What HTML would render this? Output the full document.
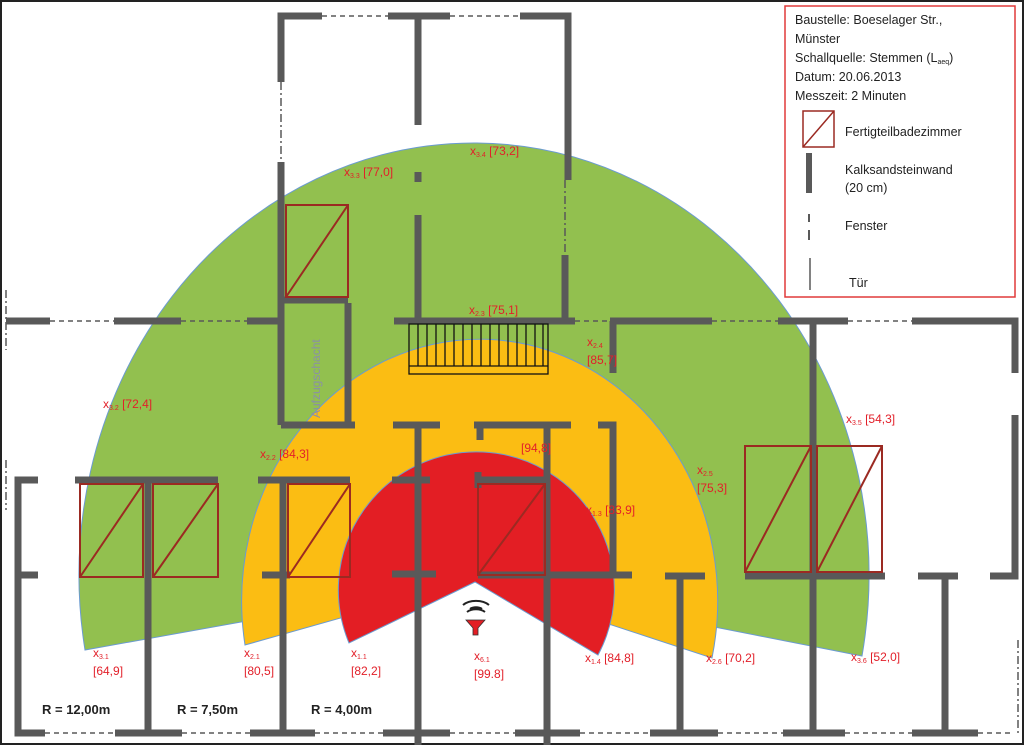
<!DOCTYPE html>
<html><head><meta charset="utf-8"><style>
html,body{margin:0;padding:0;background:#fff}
svg{display:block}
.w{stroke:#595959;stroke-width:7;fill:none}
.d{stroke:#595959;stroke-width:1.5;stroke-dasharray:5 4;fill:none}
.dd{stroke:#595959;stroke-width:1.5;stroke-dasharray:8 3 2 3;fill:none}
.b{stroke:#9b2a22;stroke-width:2;fill:none}
.l{font-family:"Liberation Sans",sans-serif;font-size:12px;fill:#e2202a}
.s{font-size:7px}
.lg{font-family:"Liberation Sans",sans-serif;font-size:12.5px;fill:#222}
</style></head><body>
<svg width="1024" height="745" viewBox="0 0 1024 745">
<rect x="1" y="1" width="1022" height="743" fill="#fff" stroke="#222" stroke-width="2"/>
<!-- zones -->
<path d="M85,650 A395,432 0 1 1 862,656 L475,580 Z" fill="#92c04f" stroke="#6b9bd0" stroke-width="1"/>
<path d="M245,645 A238,262 0 1 1 712,658 L475,580 Z" fill="#fbbd13" stroke="#6b9bd0" stroke-width="1"/>
<path d="M349,643 A138,138 0 1 1 598,655 L475,582 Z" fill="#e31e24" stroke="#6b9bd0" stroke-width="1"/>
<!-- dashed windows -->
<g class="d">
<line x1="322" y1="16" x2="388" y2="16"/><line x1="450" y1="16" x2="520" y2="16"/>
<line x1="50" y1="321" x2="114" y2="321"/><line x1="181" y1="321" x2="247" y2="321"/>
<line x1="575" y1="321" x2="610" y2="321"/>
<line x1="712" y1="321" x2="778" y2="321"/><line x1="848" y1="321" x2="912" y2="321"/>
<line x1="45" y1="733" x2="115" y2="733"/><line x1="182" y1="733" x2="250" y2="733"/>
<line x1="315" y1="733" x2="383" y2="733"/><line x1="450" y1="733" x2="515" y2="733"/>
<line x1="580" y1="733" x2="650" y2="733"/><line x1="718" y1="733" x2="783" y2="733"/>
<line x1="845" y1="733" x2="912" y2="733"/><line x1="978" y1="733" x2="1012" y2="733"/>
</g>
<g class="dd">
<line x1="281" y1="82" x2="281" y2="162"/><line x1="565" y1="180" x2="565" y2="255"/>
<line x1="6" y1="290" x2="6" y2="350"/><line x1="6" y1="460" x2="6" y2="510"/><line x1="1018" y1="640" x2="1018" y2="735"/>
</g>
<!-- walls -->
<g class="w">
<path d="M322,16 H281 V82 M281,162 V425"/>
<path d="M388,16 H450 M418,16 V125 M418,172 V182 M418,215 V321"/>
<path d="M520,16 H568 V180 M565,255 V321"/>
<path d="M6,321 H50 M114,321 H181 M247,321 H283 M394,321 H575 M560,321 H575 M610,321 H712 M778,321 H848 M912,321 H1015 V373 M1015,415 V576 H990"/>
<path d="M613,321 V373"/>
<path d="M348,303 V425 M281,425 H355 M284,300 H348"/>
<path d="M393,425 H440 M418,425 V745 M392,480 H430 M392,574 H436"/>
<path d="M474,425 H571 M480,425 V440 M547,425 V745"/>
<path d="M598,425 H613 V575 M478,472 V488 M478,480 H545 M478,575 H632"/>
<path d="M38,480 H18 V733 H45 M18,575 H38"/>
<path d="M75,480 H218 M148,480 V733 M115,733 H182"/>
<path d="M258,480 H350 M283,480 V733 M262,575 H290 M250,733 H315"/>
<path d="M383,733 H450 M515,733 H580"/>
<path d="M665,576 H705 M680,576 V733 M650,733 H718"/>
<path d="M813,321 V733 M745,576 H885 M783,733 H845"/>
<path d="M918,576 H958 M945,576 V733 M912,733 H978"/>
</g>
<!-- bathrooms -->
<g class="b">
<rect x="286" y="205" width="62" height="92"/><line x1="286" y1="297" x2="348" y2="205"/>
<rect x="80" y="484" width="63" height="93"/><line x1="80" y1="577" x2="143" y2="484"/>
<rect x="153" y="484" width="65" height="93"/><line x1="153" y1="577" x2="218" y2="484"/>
<rect x="288" y="484" width="62" height="93"/><line x1="288" y1="577" x2="350" y2="484"/>
<rect x="478" y="484" width="67" height="91"/><line x1="478" y1="575" x2="545" y2="484"/>
<rect x="745" y="446" width="66" height="126"/><line x1="745" y1="572" x2="811" y2="446"/>
<rect x="817" y="446" width="65" height="126"/><line x1="817" y1="572" x2="882" y2="446"/>
</g>
<!-- stairs -->
<g stroke="#111" stroke-width="1.3" fill="none">
<rect x="409" y="324" width="139" height="50"/><line x1="409" y1="366" x2="548" y2="366"/>
<path d="M418,324V366M427,324V366M436,324V366M445,324V366M454,324V366M463,324V366M472,324V366M481,324V366M490,324V366M499,324V366M508,324V366M517,324V366M526,324V366M535,324V366M543,324V366"/>
</g>
<text x="320" y="418" transform="rotate(-90 320 418)" font-family="Liberation Sans,sans-serif" font-size="12" fill="#8a8fa8">Aufzugschacht</text>
<!-- source icon -->
<g>
<path d="M466,620 H485 L478,628 V635 H473 V628 Z" fill="#e31e24" stroke="#333" stroke-width="0.8"/>
<path d="M467,612 A12,8 0 0 1 485,612 M470,609 A8,5 0 0 1 482,609 M463,605 A16,10 0 0 1 489,605" stroke="#222" stroke-width="2" fill="none"/>
</g>
<!-- labels -->
<g class="l">
<text x="344" y="176">x<tspan class="s" dy="2">3.3</tspan><tspan dy="-2">  [77,0]</tspan></text>
<text x="470" y="155">x<tspan class="s" dy="2">3.4</tspan><tspan dy="-2">  [73,2]</tspan></text>
<text x="103" y="408">x<tspan class="s" dy="2">3.2</tspan><tspan dy="-2"> [72,4]</tspan></text>
<text x="469" y="314">x<tspan class="s" dy="2">2.3</tspan><tspan dy="-2">  [75,1]</tspan></text>
<text x="587" y="346">x<tspan class="s" dy="2">2.4</tspan></text><text x="587" y="364">[85,7]</text>
<text x="260" y="458">x<tspan class="s" dy="2">2.2</tspan><tspan dy="-2">  [84,3]</tspan></text>
<text x="521" y="452">[94,8]</text>
<text x="586" y="514">x<tspan class="s" dy="2">1.3</tspan><tspan dy="-2">   [83,9]</tspan></text>
<text x="697" y="474">x<tspan class="s" dy="2">2.5</tspan></text><text x="697" y="492">[75,3]</text>
<text x="846" y="423">x<tspan class="s" dy="2">3.5</tspan><tspan dy="-2">  [54,3]</tspan></text>
<text x="93" y="657">x<tspan class="s" dy="2">3.1</tspan></text><text x="93" y="675">[64,9]</text>
<text x="244" y="657">x<tspan class="s" dy="2">2.1</tspan></text><text x="244" y="675">[80,5]</text>
<text x="351" y="657">x<tspan class="s" dy="2">1.1</tspan></text><text x="351" y="675">[82,2]</text>
<text x="474" y="660">x<tspan class="s" dy="2">6.1</tspan></text><text x="474" y="678">[99.8]</text>
<text x="585" y="662">x<tspan class="s" dy="2">1.4</tspan><tspan dy="-2">  [84,8]</tspan></text>
<text x="706" y="662">x<tspan class="s" dy="2">2.6</tspan><tspan dy="-2">  [70,2]</tspan></text>
<text x="851" y="661">x<tspan class="s" dy="2">3.6</tspan><tspan dy="-2">  [52,0]</tspan></text>
</g>
<g font-family="Liberation Sans,sans-serif" font-size="13" font-weight="bold" fill="#222">
<text x="42" y="714">R = 12,00m</text><text x="177" y="714">R = 7,50m</text><text x="311" y="714">R = 4,00m</text>
</g>
<!-- legend -->
<rect x="785" y="6" width="230" height="291" fill="#fff" stroke="#e03a3a" stroke-width="1.5"/>
<g class="lg">
<text x="795" y="24">Baustelle: Boeselager Str.,</text>
<text x="795" y="43">Münster</text>
<text x="795" y="62">Schallquelle: Stemmen (L<tspan font-size="7" dy="2">aeq</tspan><tspan dy="-2">)</tspan></text>
<text x="795" y="81">Datum: 20.06.2013</text>
<text x="795" y="100">Messzeit: 2 Minuten</text>
<text x="845" y="136">Fertigteilbadezimmer</text>
<text x="845" y="174">Kalksandsteinwand</text>
<text x="845" y="192">(20 cm)</text>
<text x="845" y="230">Fenster</text>
<text x="849" y="287">Tür</text>
</g>
<rect x="803" y="111" width="31" height="36" fill="none" stroke="#9b2a22" stroke-width="1.5"/>
<line x1="803" y1="147" x2="834" y2="111" stroke="#9b2a22" stroke-width="1.5"/>
<line x1="809" y1="153" x2="809" y2="193" stroke="#595959" stroke-width="6"/>
<line x1="809" y1="214" x2="809" y2="222" stroke="#595959" stroke-width="2"/>
<line x1="809" y1="230" x2="809" y2="240" stroke="#595959" stroke-width="2"/>
<line x1="810" y1="258" x2="810" y2="290" stroke="#595959" stroke-width="1.5"/>
</svg>
</body></html>
